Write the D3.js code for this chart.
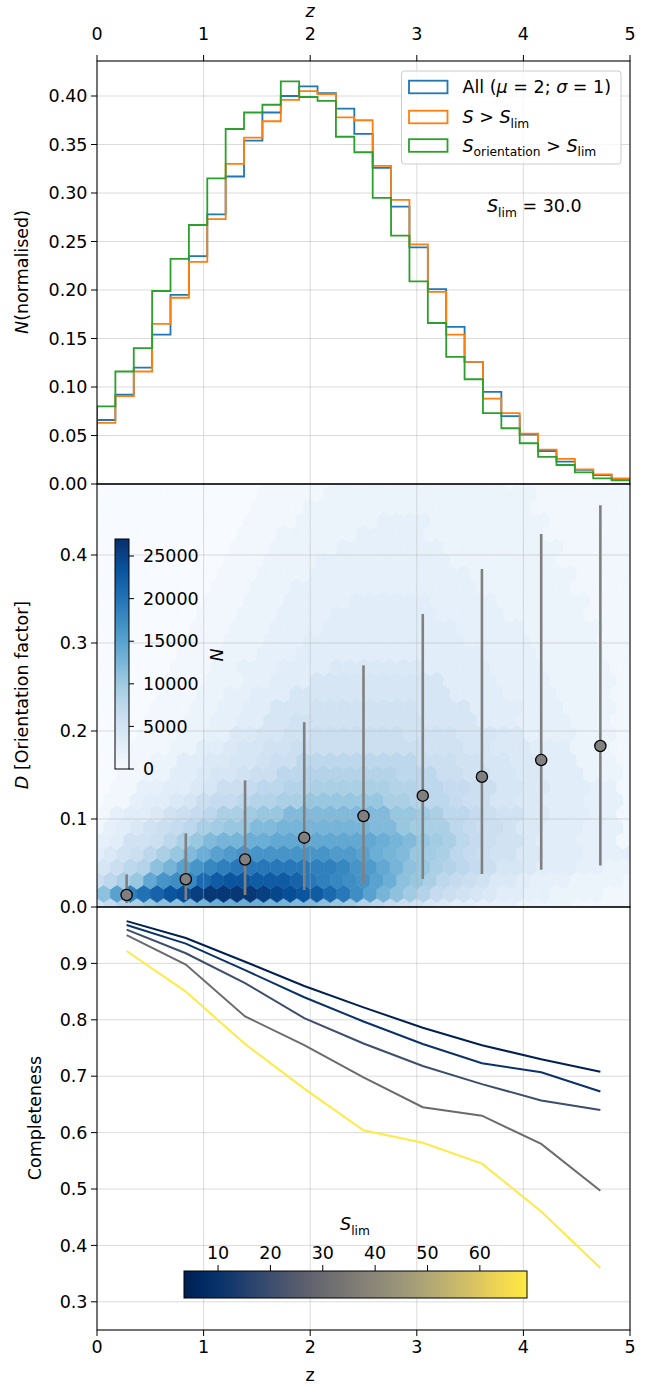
<!DOCTYPE html>
<html>
<head>
<meta charset="utf-8">
<script src="https://cdn.jsdelivr.net/npm/d3@7/dist/d3.min.js"></script>
<style>
  body { margin: 0; background: #fff; }
  text { font-family: "DejaVu Sans", sans-serif; white-space: pre; }
</style>
</head>
<body>
<svg id="fig"></svg>
<script>
// ---- data ----
// top panel: normalised N(z), 29 bins over [0, 5]
const zRange = [0, 5];
const nBins = 29;
const histAll = [0.066, 0.092, 0.120, 0.154, 0.195, 0.235, 0.278, 0.317, 0.354, 0.383, 0.400, 0.410, 0.403, 0.387, 0.361,
  0.326, 0.286, 0.244, 0.201, 0.162, 0.126, 0.095, 0.070, 0.051, 0.034, 0.023, 0.0145, 0.0093, 0.0052];
const histS = [0.063, 0.0905, 0.116, 0.165, 0.192, 0.229, 0.273, 0.330, 0.357, 0.374, 0.396, 0.405, 0.402, 0.378, 0.375,
  0.328, 0.293, 0.247, 0.198, 0.154, 0.126, 0.088, 0.073, 0.052, 0.0355, 0.026, 0.015, 0.010, 0.0059];
const histSor = [0.080, 0.116, 0.140, 0.199, 0.232, 0.267, 0.315, 0.366, 0.383, 0.391, 0.415, 0.399, 0.395, 0.358, 0.342,
  0.295, 0.256, 0.209, 0.166, 0.131, 0.108, 0.073, 0.0575, 0.042, 0.028, 0.0196, 0.012, 0.0059, 0.0038];
const sLimShown = 30.0;

// middle panel: binned median D with spread
const binZ = [0.278, 0.833, 1.389, 1.944, 2.5, 3.056, 3.611, 4.167, 4.722];
const dMed = [0.0136, 0.0315, 0.054, 0.0788, 0.1034, 0.1265, 0.148, 0.167, 0.183];
const dLow = [0.0045, 0.008, 0.0136, 0.0193, 0.0258, 0.0318, 0.0375, 0.0424, 0.0473];
const dHigh = [0.037, 0.0837, 0.144, 0.210, 0.2746, 0.333, 0.384, 0.424, 0.4565];

// hexbin counts, one string per lattice row (base-36 digit x 750 counts),
// even rows start at z = 0, odd rows are offset by half a cell
const hexStep = [0.125, 0.01515];   // cell pitch in z and row pitch in D
const hexUnit = 750;
const hexMax = 27000;
const hexRows = [
  "79bceffg hiiiihhg gfedba98 76544333 22221111 1",
  "fkprtvwy zzzzyxwv usqnkhfd b9876544 33222211",
  "8acejmno suvvuuut qponmkif eca98755 43332222 1",
  "68abfhkm opqqqqqq ppomljhf ecba9866 54443322",
  "4578aceg iklmmmmm mmllkihg edca9877 55444333 3",
  "34778ace ghhiijjj jjjjjihg edca9877 54443331",
  "1345789a cdeegghh hhhhhgge dcca9887 55444333 1",
  "13445789 accdeegg ggggggee dcaa9877 55444331",
  "01134456 899abbcc eeeeeecc baa98866 55444333 1",
  "01133445 6889aabb ccccccbb aa998866 55444331",
  "00112244 566788aa bbbbbbba aa887766 55444222 1",
  "00112244 5566788a aaaaaaaa 88877665 54442221",
  "00011122 44566778 88888888 87776655 54442221 1",
  "00011122 33556677 88888887 77766655 33332221",
  "00001112 23344667 77777777 76666444 33332221 1",
  "00001112 23344666 77777777 66664444 33322221",
  "00000111 22334446 66666666 66644443 33322221 1",
  "00000111 22233444 66666666 66444433 33222221",
  "00000011 12233344 44555555 54444433 33222221 1",
  "00000011 12223334 44444444 44444333 32222211",
  "00000001 11222333 44444444 44443333 32222211 1",
  "00000001 11222333 34444444 44433333 22222211",
  "00000000 11122233 33444444 44333332 22222111 1",
  "00000000 11122233 33344444 43333322 22222111",
  "00000000 01112223 33333333 33333222 22221111 1",
  "00000000 01112222 33333333 33332222 22221111",
  "00000000 00111222 23333333 33322222 22211111 1",
  "00000000 00111222 22333333 33222222 22211111",
  "00000000 00011122 22223333 32222222 22111111 1",
  "00000000 00011112 22222333 32222222 22111111",
  "00000000 00001111 22222222 22222222 21111111 1",
  "00000000 00001111 12222222 22222222 21111111",
  "00000000 00000111 11222222 22222221 11111111 1"
];
const hexTicks = [0, 5000, 10000, 15000, 20000, 25000];

// bottom panel: completeness per S_lim
const sLimValues = [3.5, 10, 20, 30, 69];
const completeness = [
  [0.975, 0.945, 0.903, 0.860, 0.822, 0.786, 0.755, 0.730, 0.708],
  [0.968, 0.935, 0.888, 0.840, 0.797, 0.757, 0.723, 0.707, 0.673],
  [0.960, 0.918, 0.865, 0.803, 0.758, 0.718, 0.686, 0.657, 0.640],
  [0.950, 0.898, 0.806, 0.755, 0.698, 0.645, 0.630, 0.580, 0.497],
  [0.922, 0.850, 0.757, 0.678, 0.604, 0.582, 0.545, 0.460, 0.360]
];
const sLimTicks = [10, 20, 30, 40, 50, 60];

const xTicks = [0, 1, 2, 3, 4, 5];
const yTicksTop = [0, 0.05, 0.10, 0.15, 0.20, 0.25, 0.30, 0.35, 0.40];
const yTicksMid = [0, 0.1, 0.2, 0.3, 0.4];
const yTicksBot = [0.3, 0.4, 0.5, 0.6, 0.7, 0.8, 0.9];

// ---- layout ----
const W = 652, H = 1386;
const L = 97, R = 630;
const FS = 17.5;
const TICK = 6;
const svg = d3.select('#fig').attr('width', W).attr('height', H);

const x = d3.scaleLinear().domain(zRange).range([L, R]);
const yTop = d3.scaleLinear().domain([0, 0.4361]).range([484, 61]);
const yMid = d3.scaleLinear().domain([0, 0.4807]).range([907, 484]);
const yBot = d3.scaleLinear().domain([0.25, 1.0]).range([1330, 907]);

const defs = svg.append('defs');
function clip(id, y0, y1) {
  defs.append('clipPath').attr('id', id)
    .append('rect').attr('x', L).attr('y', y0).attr('width', R - L).attr('height', y1 - y0);
}
clip('cTop', 61, 484); clip('cMid', 484, 907); clip('cBot', 907, 1330);

// rich text helper: parts = [[string, kind]] with kind '', 'i' or 'sub'
function rich(g, px, py, parts, size, anchor) {
  const t = g.append('text').attr('x', px).attr('y', py).attr('font-size', size)
    .attr('text-anchor', anchor || 'start');
  let shift = 0;
  parts.forEach(([s, kind]) => {
    const ts = t.append('tspan').text(s);
    const want = kind === 'sub' ? size * 0.27 : 0;
    if (want !== shift) { ts.attr('dy', want - shift); shift = want; }
    if (kind === 'i') ts.attr('font-style', 'italic');
    if (kind === 'sub') ts.attr('font-size', size * 0.7);
  });
  return t;
}

function grid(g, y, ticks, y0, y1) {
  const gg = g.append('g').attr('stroke', '#b0b0b0').attr('stroke-opacity', 0.45).attr('stroke-width', 1);
  xTicks.slice(1, -1).forEach(v => gg.append('line').attr('x1', x(v)).attr('x2', x(v)).attr('y1', y0).attr('y2', y1));
  ticks.forEach(v => gg.append('line').attr('x1', L).attr('x2', R).attr('y1', y(v)).attr('y2', y(v)));
}

function yAxis(y, ticks, fmt) {
  const g = svg.append('g');
  ticks.forEach(v => {
    g.append('line').attr('x1', L - TICK).attr('x2', L).attr('y1', y(v)).attr('y2', y(v)).attr('stroke', '#000');
    g.append('text').attr('x', L - TICK - 3.5).attr('y', y(v)).attr('dy', '0.35em')
      .attr('text-anchor', 'end').attr('font-size', FS).text(fmt(v));
  });
}

// ---- top panel: histograms ----
const edges = d3.range(nBins + 1).map(i => zRange[0] + i * (zRange[1] - zRange[0]) / nBins);
grid(svg, yTop, yTicksTop, 61, 484);
const topG = svg.append('g').attr('clip-path', 'url(#cTop)');
const stepLine = d3.line().x(d => x(d[0])).y(d => yTop(d[1]));
function stepPts(vals) {
  const pts = [[edges[0], 0]];
  vals.forEach((v, i) => { pts.push([edges[i], v]); pts.push([edges[i + 1], v]); });
  pts.push([edges[nBins], 0]);
  return pts;
}
const histSeries = [
  { vals: histAll, color: '#1f77b4' },
  { vals: histS, color: '#ff7f0e' },
  { vals: histSor, color: '#2ca02c' }
];
histSeries.forEach(s => {
  topG.append('path').attr('d', stepLine(stepPts(s.vals))).attr('fill', 'none')
    .attr('stroke', s.color).attr('stroke-width', 1.8).attr('stroke-linejoin', 'miter');
});

// legend
const leg = svg.append('g');
leg.append('rect').attr('x', 401.5).attr('y', 71).attr('width', 219.5).attr('height', 93).attr('rx', 3)
  .attr('fill', '#fff').attr('fill-opacity', 0.8).attr('stroke', '#cccccc').attr('stroke-width', 1);
const legItems = [
  [['All (', ''], ['μ', 'i'], [' = 2; ', ''], ['σ', 'i'], [' = 1)', '']],
  [['S', 'i'], [' > ', ''], ['S', 'i'], ['lim', 'sub']],
  [['S', 'i'], ['orientation', 'sub'], [' > ', ''], ['S', 'i'], ['lim', 'sub']]
];
const legY = [87, 117, 145.5];
legItems.forEach((parts, i) => {
  leg.append('rect').attr('x', 409).attr('y', legY[i] - 6.3).attr('width', 38.5).attr('height', 12.6)
    .attr('fill', 'none').attr('stroke', histSeries[i].color).attr('stroke-width', 1.8);
  rich(leg, 462.5, legY[i] + 6, parts, FS);
});
rich(svg, 487, 212, [['S', 'i'], ['lim', 'sub'], [' = ' + sLimShown.toFixed(1), '']], FS);

// ---- middle panel: hexbin ----
const bluesStops = ['#f7fbff', '#deebf7', '#c6dbef', '#9ecae1', '#6baed6', '#4292c6', '#2171b5', '#08519c', '#08306b'];
const blues = d3.scaleLinear().domain(bluesStops.map((c, i) => i / 8 * hexMax)).range(bluesStops).clamp(true);
const midG = svg.append('g').attr('clip-path', 'url(#cMid)');
const sxPx = x(hexStep[0]) - x(0);
const rowPx = yMid(0) - yMid(hexStep[1]);
const hexPath = 'M' + [[sxPx / 2, -rowPx / 3], [sxPx / 2, rowPx / 3], [0, 2 * rowPx / 3],
  [-sxPx / 2, rowPx / 3], [-sxPx / 2, -rowPx / 3], [0, -2 * rowPx / 3]].map(p => p.join(',')).join('L') + 'Z';
const cells = [];
hexRows.forEach((row, r) => {
  row.replace(/ /g, '').split('').forEach((ch, i) => {
    cells.push({ z: (i + (r % 2 ? 0.5 : 0)) * hexStep[0], d: r * hexStep[1], n: parseInt(ch, 36) * hexUnit });
  });
});
midG.selectAll('path.hex').data(cells).join('path').attr('class', 'hex')
  .attr('d', hexPath)
  .attr('transform', c => `translate(${x(c.z)},${yMid(c.d)})`)
  .attr('fill', c => blues(c.n)).attr('stroke', c => blues(c.n)).attr('stroke-width', 0.6);
grid(midG, yMid, yTicksMid, 484, 907);

// error bars and medians
midG.selectAll('line.err').data(binZ).join('line').attr('class', 'err')
  .attr('x1', z => x(z)).attr('x2', z => x(z))
  .attr('y1', (z, i) => yMid(dLow[i])).attr('y2', (z, i) => yMid(dHigh[i]))
  .attr('stroke', '#808080').attr('stroke-width', 2.6);
midG.selectAll('circle.med').data(binZ).join('circle').attr('class', 'med')
  .attr('cx', z => x(z)).attr('cy', (z, i) => yMid(dMed[i])).attr('r', 5.6)
  .attr('fill', '#808080').attr('stroke', '#000').attr('stroke-width', 1.3);

// inset colorbar
const cbV = d3.scaleLinear().domain([0, hexMax]).range([769, 539]);
const gradV = defs.append('linearGradient').attr('id', 'gBlues').attr('x1', 0).attr('y1', 1).attr('x2', 0).attr('y2', 0);
bluesStops.forEach((c, i) => gradV.append('stop').attr('offset', i / 8).attr('stop-color', c));
svg.append('rect').attr('x', 115).attr('y', 539).attr('width', 14).attr('height', 230)
  .attr('fill', 'url(#gBlues)').attr('stroke', '#000').attr('stroke-width', 1);
hexTicks.forEach(v => {
  svg.append('line').attr('x1', 129).attr('x2', 134).attr('y1', cbV(v)).attr('y2', cbV(v)).attr('stroke', '#000');
  svg.append('text').attr('x', 143).attr('y', cbV(v)).attr('dy', '0.35em').attr('font-size', FS).text(v);
});
svg.append('text').attr('transform', 'translate(217,655) rotate(-90)').attr('text-anchor', 'middle')
  .attr('dy', '0.35em').attr('font-size', FS).attr('font-style', 'italic').text('N');

// ---- bottom panel: completeness ----
grid(svg, yBot, yTicksBot, 907, 1330);
const botG = svg.append('g').attr('clip-path', 'url(#cBot)');
const sNorm = d3.scaleLinear().domain(d3.extent(sLimValues)).range([0, 1]);
const compLine = d3.line().x((v, i) => x(binZ[i])).y(v => yBot(v));
completeness.forEach((vals, k) => {
  botG.append('path').attr('d', compLine(vals)).attr('fill', 'none')
    .attr('stroke', d3.interpolateCividis(sNorm(sLimValues[k]))).attr('stroke-width', 2);
});

// horizontal colorbar
const cbH = d3.scaleLinear().domain(d3.extent(sLimValues)).range([184, 527]);
const gradH = defs.append('linearGradient').attr('id', 'gCiv');
d3.range(21).forEach(i => gradH.append('stop').attr('offset', i / 20).attr('stop-color', d3.interpolateCividis(i / 20)));
svg.append('rect').attr('x', 184).attr('y', 1271).attr('width', 343).attr('height', 27)
  .attr('fill', 'url(#gCiv)').attr('stroke', '#000').attr('stroke-width', 1);
sLimTicks.forEach(v => {
  svg.append('line').attr('x1', cbH(v)).attr('x2', cbH(v)).attr('y1', 1271).attr('y2', 1265).attr('stroke', '#000');
  svg.append('text').attr('x', cbH(v)).attr('y', 1259).attr('text-anchor', 'middle').attr('font-size', FS).text(v);
});
rich(svg, 355, 1230, [['S', 'i'], ['lim', 'sub']], FS, 'middle');

// ---- axes, spines, labels ----
yAxis(yTop, yTicksTop, d3.format('.2f'));
yAxis(yMid, yTicksMid, d3.format('.1f'));
yAxis(yBot, yTicksBot, d3.format('.1f'));

xTicks.forEach(v => {
  svg.append('line').attr('x1', x(v)).attr('x2', x(v)).attr('y1', 61).attr('y2', 61 - TICK).attr('stroke', '#000');
  svg.append('text').attr('x', x(v)).attr('y', 40).attr('text-anchor', 'middle').attr('font-size', FS).text(v);
  svg.append('line').attr('x1', x(v)).attr('x2', x(v)).attr('y1', 1330).attr('y2', 1330 + TICK).attr('stroke', '#000');
  svg.append('text').attr('x', x(v)).attr('y', 1353).attr('text-anchor', 'middle').attr('font-size', FS).text(v);
});

[[61, 484], [484, 907], [907, 1330]].forEach(([a, b]) => {
  svg.append('rect').attr('x', L).attr('y', a).attr('width', R - L).attr('height', b - a)
    .attr('fill', 'none').attr('stroke', '#000').attr('stroke-width', 1.1);
});

svg.append('text').attr('x', x(2)).attr('y', 17).attr('text-anchor', 'middle').attr('font-size', FS)
  .attr('font-style', 'italic').text('z');
svg.append('text').attr('x', x(2)).attr('y', 1381).attr('text-anchor', 'middle').attr('font-size', FS).text('z');

const ylabTop = svg.append('g').attr('transform', 'translate(28,272) rotate(-90)');
rich(ylabTop, 0, 0, [['N', 'i'], ['(normalised)', '']], FS, 'middle');
const ylabMid = svg.append('g').attr('transform', 'translate(28,695) rotate(-90)');
rich(ylabMid, 0, 0, [['D', 'i'], [' [Orientation factor]', '']], FS, 'middle');
svg.append('text').attr('transform', 'translate(41,1118) rotate(-90)').attr('text-anchor', 'middle')
  .attr('font-size', FS).text('Completeness');
</script>
</body>
</html>
